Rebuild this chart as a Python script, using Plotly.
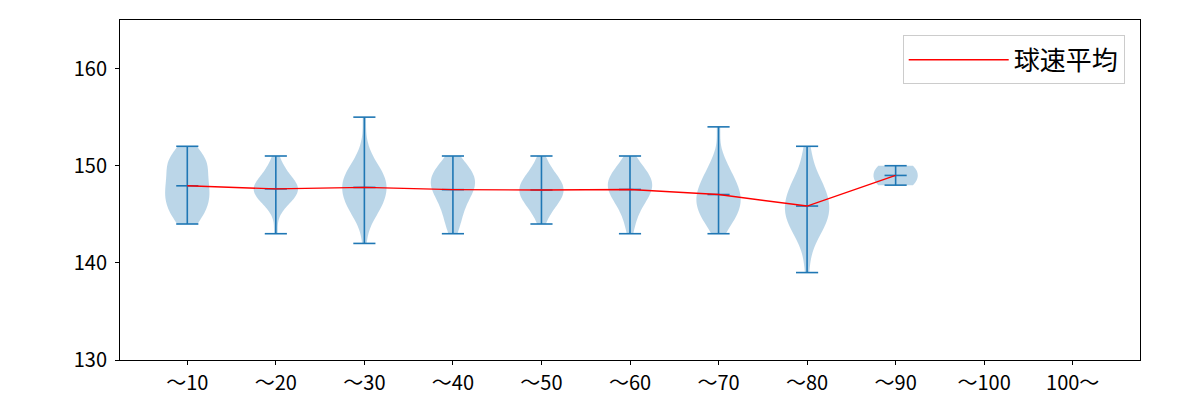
import numpy as np
import plotly.graph_objects as go

categories = ["～10", "～20", "～30", "～40", "～50", "～60", "～70", "～80", "～90", "～100", "100～"]

# pitch speed (km/h) histograms per pitch-count bucket
speeds_10 = [144, 145, 146, 147, 148, 149, 150, 151, 152]
counts_10 = [2, 3, 4, 4, 4, 3, 4, 4, 1]
speeds_20 = [143, 145, 146, 147, 148, 149, 150, 151]
counts_20 = [1, 1, 3, 7, 7, 4, 2, 1]
speeds_30 = [142, 144, 145, 146, 147, 148, 149, 150, 151, 152, 155]
counts_30 = [1, 1, 3, 4, 5, 5, 5, 3, 1, 1, 1]
speeds_40 = [143, 144, 145, 146, 147, 148, 149, 150, 151]
counts_40 = [1, 2, 2, 3, 4, 6, 5, 4, 1]
speeds_50 = [144, 145, 146, 147, 148, 149, 150, 151]
counts_50 = [1, 2, 4, 6, 6, 4, 2, 1]
speeds_60 = [143, 144, 145, 146, 147, 148, 149, 150, 151]
counts_60 = [1, 1, 2, 3, 5, 6, 5, 3, 1]
speeds_70 = [143, 144, 145, 146, 147, 148, 149, 150, 151, 154]
counts_70 = [1, 3, 4, 5, 5, 4, 3, 2, 1, 1]
speeds_80 = [139, 141, 142, 143, 144, 145, 146, 147, 148, 149, 150, 151, 152]
counts_80 = [1, 1, 1, 3, 4, 5, 5, 4, 4, 2, 1, 1, 1]
speeds_90 = [148, 149, 150]
counts_90 = [1, 1, 1]

groups = [
    (speeds_10, counts_10), (speeds_20, counts_20), (speeds_30, counts_30),
    (speeds_40, counts_40), (speeds_50, counts_50), (speeds_60, counts_60),
    (speeds_70, counts_70), (speeds_80, counts_80), (speeds_90, counts_90),
]

BLUE = "#1f77b4"
fig = go.Figure()

pos_list, means = [], []
cap_x, cap_y = [], []
bar_x, bar_y = [], []
half = 0.125
for i, (sp, ct) in enumerate(groups):
    pos = i + 1
    data = np.repeat(np.array(sp, dtype=float), ct)
    n = len(data)
    bw = np.std(data, ddof=1) * n ** (-1 / 5)
    fig.add_trace(go.Violin(
        x=[pos] * n, y=data, bandwidth=bw, spanmode="hard",
        scalemode="width", width=0.5, points=False,
        fillcolor="rgba(31,119,180,0.3)", line=dict(color="rgba(31,119,180,0.0)", width=0),
        box_visible=False, meanline_visible=False, showlegend=False, hoverinfo="skip",
    ))
    mn, mx, me = data.min(), data.max(), data.mean()
    pos_list.append(pos)
    means.append(me)
    bar_x += [pos, pos, None]
    bar_y += [mn, mx, None]
    for v in (mn, mx, me):
        cap_x += [pos - half, pos + half, None]
        cap_y += [v, v, None]

fig.add_trace(go.Scatter(x=bar_x, y=bar_y, mode="lines", line=dict(color=BLUE, width=1.6),
                         showlegend=False, hoverinfo="skip"))
fig.add_trace(go.Scatter(x=cap_x, y=cap_y, mode="lines", line=dict(color=BLUE, width=1.6),
                         showlegend=False, hoverinfo="skip"))
fig.add_trace(go.Scatter(x=pos_list, y=means, mode="lines", line=dict(color="red", width=1.4),
                         name="球速平均"))

FONT = "Noto Sans CJK JP, DejaVu Sans, sans-serif"
fig.update_layout(
    width=1200, height=400,
    margin=dict(l=120, r=60, t=20, b=40),
    plot_bgcolor="white", paper_bgcolor="white",
    violinmode="overlay",
    font=dict(family=FONT, size=20, color="black"),
    xaxis=dict(range=[0.24, 11.76], tickmode="array", tickvals=list(range(1, 12)),
               ticktext=categories, showgrid=False, zeroline=False, automargin=False,
               showline=True, linecolor="black", linewidth=1, mirror=True,
               ticks="outside", ticklen=4, tickcolor="black", ticklabelstandoff=1),
    yaxis=dict(range=[130, 165], tickvals=[130, 140, 150, 160], showgrid=False,
               zeroline=False, showline=True, linecolor="black", linewidth=1, mirror=True,
               automargin=False,
               ticks="outside", ticklen=4, tickcolor="black", ticklabelstandoff=4),
    legend=dict(x=0.985, y=0.955, xanchor="right", yanchor="top",
                bordercolor="#cccccc", borderwidth=1, bgcolor="white",
                font=dict(size=26), itemwidth=100),
)

fig.write_html("out.html")
